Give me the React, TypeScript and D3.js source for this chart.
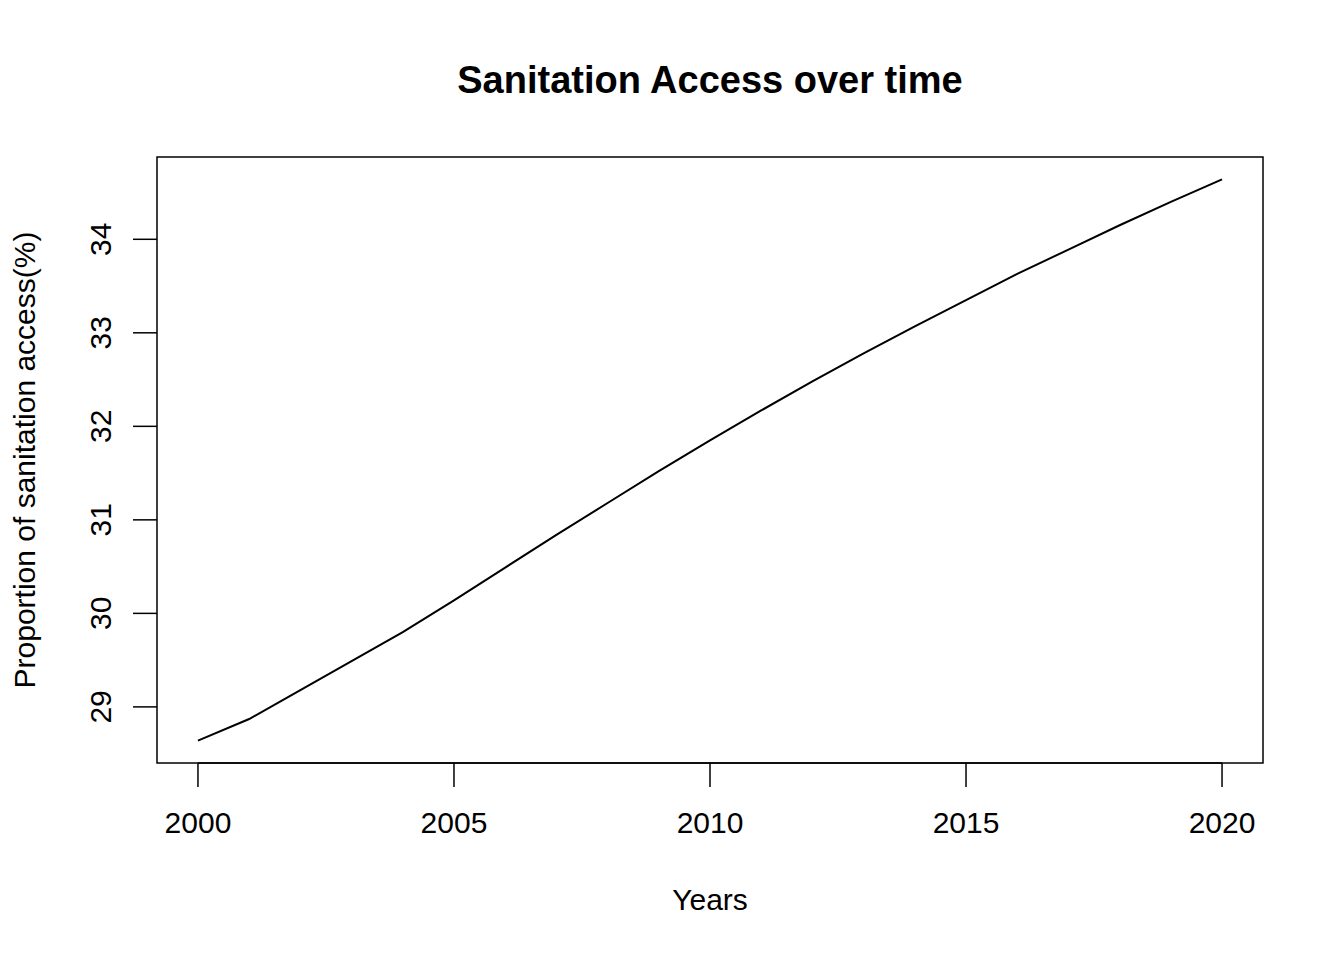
import * as d3 from "d3";

const years = d3.range(2000, 2021);
const values = [28.64, 28.87, 29.18, 29.49, 29.8, 30.14, 30.49, 30.84, 31.18, 31.52, 31.85, 32.17, 32.48, 32.78, 33.07, 33.35, 33.63, 33.89, 34.15, 34.4, 34.64];
const xTicks = [2000, 2005, 2010, 2015, 2020];
const yTicks = [29, 30, 31, 32, 33, 34];

const W = 1344, H = 960;
const L = 157, R = 1263, T = 157, B = 763;

export default function App() {
  const x = d3.scaleLinear().domain([1999.2, 2020.8]).range([L, R]);
  const y = d3.scaleLinear().domain([28.4, 34.88]).range([B, T]);
  const line = d3.line<number>().x((_, i) => x(years[i])).y((d) => y(d));
  const font = "'Liberation Sans', Arial, sans-serif";
  return (
    <svg width={W} height={H} style={{ position: "absolute", left: 0, top: 0, background: "#fff" }} fontFamily={font}>
      <text x={(L + R) / 2} y={93} textAnchor="middle" fontSize={38} fontWeight="bold">Sanitation Access over time</text>
      <rect x={L} y={T} width={R - L} height={B - T} fill="none" stroke="#000" strokeWidth={1.5} />
      <path d={line(values)!} fill="none" stroke="#000" strokeWidth={2} />
      <line x1={x(2000)} x2={x(2020)} y1={B} y2={B} stroke="#000" strokeWidth={1.5} />
      {xTicks.map((t) => (
        <g key={t}>
          <line x1={x(t)} x2={x(t)} y1={B} y2={B + 24} stroke="#000" strokeWidth={1.5} />
          <text x={x(t)} y={833} textAnchor="middle" fontSize={30}>{t}</text>
        </g>
      ))}
      {yTicks.map((t) => (
        <g key={t}>
          <line x1={L - 24} x2={L} y1={y(t)} y2={y(t)} stroke="#000" strokeWidth={1.5} />
          <text transform={`translate(111,${y(t)}) rotate(-90)`} textAnchor="middle" fontSize={30}>{t}</text>
        </g>
      ))}
      <text x={(L + R) / 2} y={910} textAnchor="middle" fontSize={30}>Years</text>
      <text transform={`translate(35,${(T + B) / 2}) rotate(-90)`} textAnchor="middle" fontSize={30}>Proportion of sanitation access(%)</text>
    </svg>
  );
}
